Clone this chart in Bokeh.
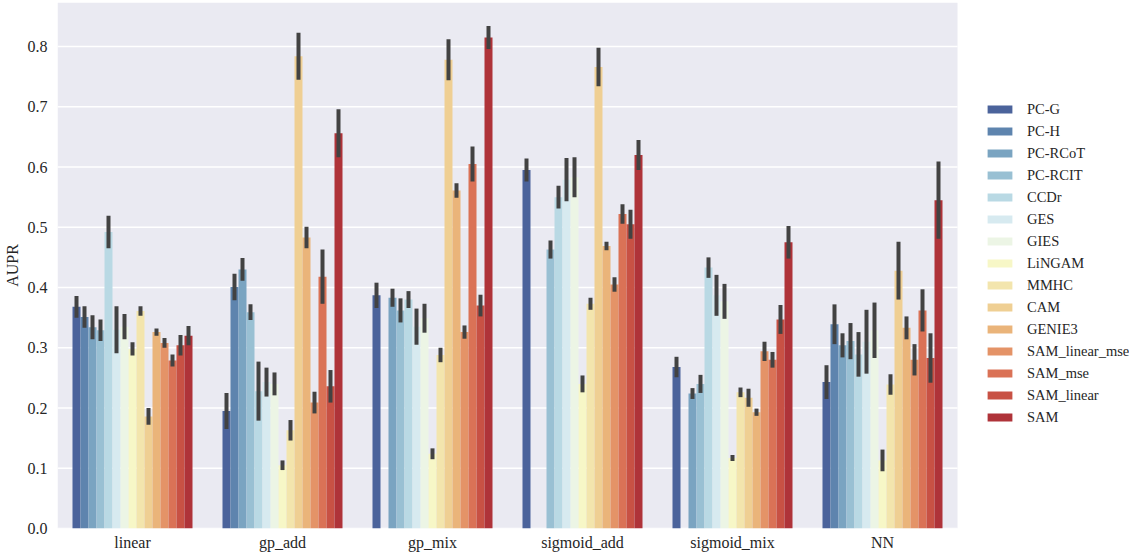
import colorsys
from bokeh.plotting import figure
from bokeh.models import (ColumnDataSource, Range1d, Legend, LegendItem, FixedTicker,
                          NumeralTickFormatter, BoxAnnotation)
from bokeh.embed import file_html
from bokeh.resources import INLINE

NaN = float("nan")

groups = ["linear", "gp_add", "gp_mix", "sigmoid_add", "sigmoid_mix", "NN"]
methods = ["PC-G", "PC-H", "PC-RCoT", "PC-RCIT", "CCDr", "GES", "GIES", "LiNGAM",
           "MMHC", "CAM", "GENIE3", "SAM_linear_mse", "SAM_mse", "SAM_linear", "SAM"]

# mean AUPR per method (order of `methods`) and half-width of the error bar
linear_mean = [0.368, 0.351, 0.334, 0.329, 0.492, 0.330, 0.335, 0.298, 0.361, 0.186, 0.326, 0.308, 0.279, 0.304, 0.320]
linear_err = [0.018, 0.018, 0.020, 0.018, 0.027, 0.039, 0.021, 0.011, 0.008, 0.014, 0.006, 0.008, 0.010, 0.017, 0.016]

gp_add_mean = [0.195, 0.401, 0.430, 0.359, 0.228, 0.243, 0.240, 0.105, 0.163, 0.784, 0.483, 0.209, 0.418, 0.236, 0.656]
gp_add_err = [0.030, 0.022, 0.019, 0.013, 0.049, 0.024, 0.019, 0.008, 0.017, 0.039, 0.018, 0.018, 0.045, 0.027, 0.040]

gp_mix_mean = [0.387, NaN, 0.383, 0.362, 0.380, 0.335, 0.349, 0.124, 0.288, 0.778, 0.561, 0.326, 0.605, 0.370, 0.815]
gp_mix_err = [0.021, NaN, 0.015, 0.020, 0.014, 0.030, 0.024, 0.009, 0.012, 0.034, 0.012, 0.011, 0.029, 0.018, 0.019]

sigmoid_add_mean = [0.595, NaN, NaN, 0.463, 0.550, 0.579, 0.583, 0.240, 0.373, 0.766, 0.469, 0.405, 0.522, 0.505, 0.620]
sigmoid_add_err = [0.019, NaN, NaN, 0.015, 0.019, 0.036, 0.033, 0.014, 0.010, 0.032, 0.007, 0.012, 0.016, 0.024, 0.025]

sigmoid_mix_mean = [0.268, NaN, 0.224, 0.240, 0.433, 0.387, 0.377, 0.117, 0.226, 0.217, 0.193, 0.294, 0.280, 0.347, 0.475]
sigmoid_mix_err = [0.017, NaN, 0.009, 0.015, 0.017, 0.034, 0.029, 0.005, 0.008, 0.015, 0.006, 0.016, 0.013, 0.024, 0.027]

NN_mean = [0.243, 0.339, 0.304, 0.311, 0.289, 0.310, 0.329, 0.113, 0.239, 0.428, 0.333, 0.280, 0.362, 0.283, 0.545]
NN_err = [0.028, 0.033, 0.020, 0.030, 0.037, 0.053, 0.046, 0.018, 0.017, 0.048, 0.019, 0.026, 0.035, 0.041, 0.064]

y_ticks = [0.0, 0.1, 0.2, 0.3, 0.4, 0.5, 0.6, 0.7, 0.8]

all_means = [linear_mean, gp_add_mean, gp_mix_mean, sigmoid_add_mean, sigmoid_mix_mean, NN_mean]
all_errs = [linear_err, gp_add_err, gp_mix_err, sigmoid_add_err, sigmoid_mix_err, NN_err]

# seaborn-like "RdYlBu_r" palette, desaturated to 0.75
anchors = ["#313695", "#4575b4", "#74add1", "#abd9e9", "#e0f3f8", "#ffffbf",
           "#fee090", "#fdae61", "#f46d43", "#d73027", "#a50026"]


def hex2rgb(h):
    return [int(h[i:i + 2], 16) / 255.0 for i in (1, 3, 5)]


def palette(n):
    out = []
    for i in range(1, n + 1):
        pos = i / (n + 1) * 10
        k = min(int(pos), 9)
        t = pos - k
        a, b = hex2rgb(anchors[k]), hex2rgb(anchors[k + 1])
        rgb = [a[j] + t * (b[j] - a[j]) for j in range(3)]
        h, l, s = colorsys.rgb_to_hls(*rgb)
        r, g, bb = colorsys.hls_to_rgb(h, l, s * 0.75)
        out.append("#%02x%02x%02x" % (round(r * 255), round(g * 255), round(bb * 255)))
    return out


colors = palette(len(methods))

FONT = "Liberation Serif"
TXT = "#262626"

FRAME_W = 1072          # frame incl. space for the legend on the right
PX_PER_GROUP = 150
FRAME_H = 526
PX_PER_UNIT = 602.5
ng = len(groups)

p = figure(x_range=Range1d(0, FRAME_W / PX_PER_GROUP), y_range=Range1d(0, FRAME_H / PX_PER_UNIT),
           frame_width=FRAME_W, frame_height=FRAME_H, output_backend="svg", toolbar_location=None,
           min_border_left=52, min_border_right=0, min_border_top=2, min_border_bottom=20)
p.background_fill_color = "white"
p.border_fill_color = "white"
p.outline_line_color = None
p.xgrid.visible = False
p.ygrid.visible = False

# axes background only over the bar area
p.add_layout(BoxAnnotation(left=0, right=ng, fill_color="#eaeaf2", fill_alpha=1.0,
                           line_color=None, level="underlay"))
# horizontal white grid lines (over the bar area)
p.segment(x0=[0] * len(y_ticks), x1=[ng] * len(y_ticks), y0=y_ticks, y1=y_ticks,
          line_color="white", line_width=1.5)

p.yaxis.ticker = FixedTicker(ticks=y_ticks)
p.yaxis.formatter = NumeralTickFormatter(format="0.0")
p.yaxis.axis_label = "AUPR"
centers = [i + 0.5 for i in range(ng)]
p.xaxis.ticker = FixedTicker(ticks=centers)
p.xaxis.major_label_overrides = {c: g for c, g in zip(centers, groups)}
for ax in (p.xaxis[0], p.yaxis[0]):
    ax.axis_line_color = None
    ax.major_tick_line_color = None
    ax.minor_tick_line_color = None
    ax.major_tick_out = 0
    ax.minor_tick_out = 0
    ax.major_tick_in = 0
    ax.major_label_text_font = FONT
    ax.major_label_text_font_size = "16px"
    ax.major_label_text_color = TXT
    ax.axis_label_text_font = FONT
    ax.axis_label_text_font_size = "16px"
    ax.axis_label_text_font_style = "normal"
    ax.axis_label_text_color = TXT
p.xaxis.major_label_standoff = 5
p.xaxis.axis_label_standoff = 0
p.yaxis.major_label_standoff = 10
p.yaxis.axis_label_standoff = 4

n = len(methods)
bw = 0.8 / n
items = []
for k, m in enumerate(methods):
    xs, tops, lo, hi = [], [], [], []
    for gi, (mv, ev) in enumerate(zip(all_means, all_errs)):
        if mv[k] == mv[k]:
            xs.append(gi + 0.5 - 0.4 + (k + 0.5) * bw)
            tops.append(mv[k])
            lo.append(mv[k] - ev[k])
            hi.append(mv[k] + ev[k])
    src = ColumnDataSource(dict(x=xs, top=tops, lo=lo, hi=hi))
    r = p.vbar(x="x", top="top", bottom=0, width=bw, source=src,
               fill_color=colors[k], line_color=None)
    p.segment(x0="x", x1="x", y0="lo", y1="hi", source=src,
              line_color="#424242", line_width=4)
    items.append(LegendItem(label=m, renderers=[r]))

legend = Legend(items=items, location=(927, 101), orientation="vertical",
                glyph_width=31, glyph_height=10, label_height=20, spacing=2,
                label_standoff=12, padding=0, margin=0,
                border_line_color=None, background_fill_alpha=0,
                label_text_font=FONT, label_text_font_size="14.5px", label_text_color=TXT)
p.add_layout(legend)

open("out.html", "w").write(file_html(p, INLINE))
